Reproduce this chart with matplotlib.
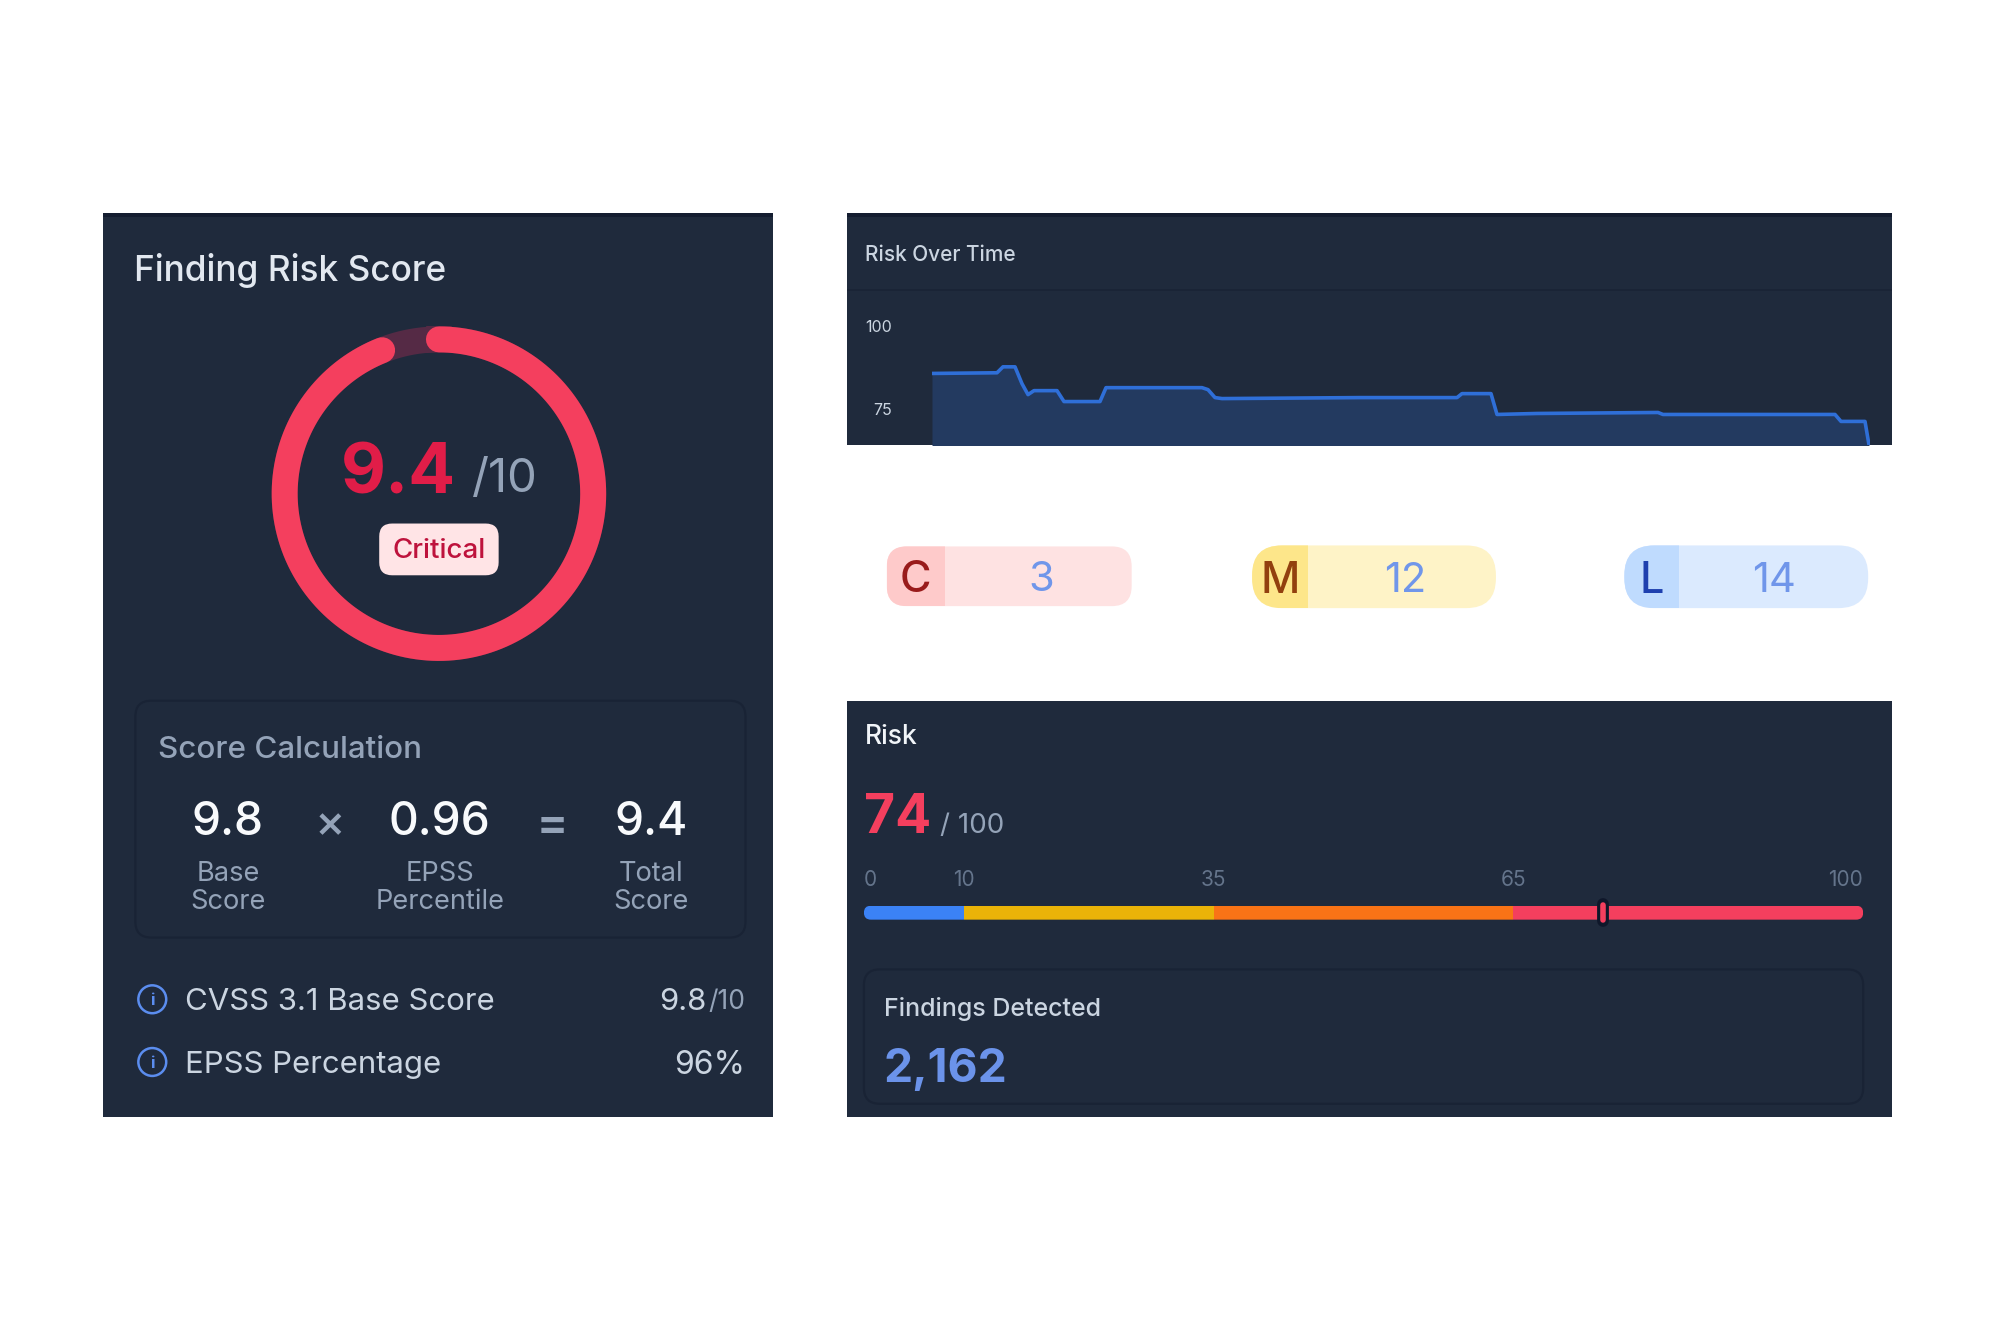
import numpy as np
import matplotlib
matplotlib.use('Agg')
import matplotlib.pyplot as plt
from matplotlib.patches import FancyBboxPatch, Rectangle, Circle

plt.rcParams['font.family'] = ['Inter', 'DejaVu Sans']

# data
score = 9.4
score_max = 10
calc_values = ['9.8', '0.96', '9.4']
calc_labels = ['Base\nScore', 'EPSS\nPercentile', 'Total\nScore']
info_names = ['CVSS 3.1 Base Score', 'EPSS Percentage']

time_x = [0, 65, 71, 83, 90, 96, 102, 125, 132, 168, 174, 270, 276, 283, 290, 428, 525,
          530, 559, 565, 605, 726, 731, 903, 909, 933, 937]
time_y = [85.8, 86, 87.8, 87.8, 82.7, 79.4, 80.6, 80.6, 77.3, 77.3, 81.5, 81.5, 80.9, 78.5,
          78.2, 78.5, 78.5, 79.7, 79.7, 73.4, 73.7, 74, 73.4, 73.4, 71.3, 71.3, 64.2]
time_ticks = [100, 75]

pill_letters = ['C', 'M', 'L']
pill_counts = [3, 12, 14]

risk_value = 74
risk_max = 100
band_edges = [0, 10, 35, 65, 100]
band_colors = ['#3b82f6', '#eab308', '#f97316', '#f43f5e']
findings = '2,162'

W, H = 2000, 1333
S = 0.9953  # layout numbers below were measured a little too wide
PANEL = '#1f2a3c'
EDGE = '#192335'

fig = plt.figure(figsize=(20, 13.33), dpi=100, facecolor='white')

# background axes in pixels, used for the cards and the texts
bg = fig.add_axes([0, 0, 1, 1])
bg.set_xlim(0, W / S)
bg.set_ylim(H / S, 0)
bg.axis('off')


def axes_px(x0, y0, x1, y1, **kw):
    x0, y0, x1, y1 = x0 * S, y0 * S, x1 * S, y1 * S
    a = fig.add_axes([x0 / W, 1 - y1 / H, (x1 - x0) / W, (y1 - y0) / H], **kw)
    a.patch.set_alpha(0)
    return a


def card(x0, y0, x1, y1, strip=False):
    bg.add_patch(Rectangle((x0, y0), x1 - x0, y1 - y0, fc=PANEL, ec='none'))
    if strip:
        bg.add_patch(Rectangle((x0, y0), x1 - x0, 4, fc='#141d30', ec='none'))


def box(x0, y0, x1, y1, r, fc, ec='none', lw=0, **kw):
    p = FancyBboxPatch((x0 + r, y0 + r), x1 - x0 - 2 * r, y1 - y0 - 2 * r,
                       boxstyle='round,pad=%f,rounding_size=%f' % (r, r),
                       fc=fc, ec=ec, lw=lw, **kw)
    bg.add_patch(p)
    return p


def label(x, y, s, size, color, ha='left', weight='normal'):
    bg.text(x, y, s, fontsize=size, color=color, ha=ha, va='center_baseline', fontweight=weight)


# left card
card(103, 214, 777, 1122, strip=True)
label(135, 268, 'Finding Risk Score', 25.4, '#e2e8f0', weight='medium')

ring = axes_px(441 - 180, 496 - 180, 441 + 180, 496 + 180, projection='polar')
ring.set_theta_zero_location('N')
ring.set_theta_direction(-1)
ring.set_rlim(0, 180)
ring.axis('off')
theta_all = np.linspace(0, 2 * np.pi, 361)
theta_val = np.linspace(0, 2 * np.pi * score / score_max, 361)
ring.plot(theta_all, np.full(361, 155), color='#552a45', lw=18.7)
ring.plot(theta_val, np.full(361, 155), color='#f43f5e', lw=18.7, solid_capstyle='round')

label(400, 470, str(score), 50, '#e11d48', ha='center', weight='bold')
label(507, 477, '/' + str(score_max), 34, '#94a3b8', ha='center')
box(381, 526, 501, 578, 13, '#ffe4e6')
label(441, 551, 'Critical', 20, '#be123c', ha='center', weight='medium')

box(136, 704, 749, 942, 16, 'none', ec=EDGE, lw=1.6)
label(159, 751, 'Score Calculation', 22.6, '#94a3b8', weight='medium')
for xc, val, lab in zip([229, 442, 654], calc_values, calc_labels):
    label(xc, 822, val, 33.3, '#f8fafc', ha='center', weight='medium')
    first, second = lab.split('\n')
    label(xc, 875, first, 19.6, '#94a3b8', ha='center')
    label(xc, 903, second, 19.6, '#94a3b8', ha='center')
label(331, 825, '×', 33, '#94a3b8', ha='center', weight='medium')
label(555, 825, '=', 33, '#94a3b8', ha='center', weight='bold')

for yc, name in zip([1004, 1067], info_names):
    bg.add_patch(Circle((153, yc), 14, fc='none', ec='#5b8def', lw=1.8))
    label(153, yc, 'i', 12, '#5b8def', ha='center', weight='bold')
    label(186, yc, name, 22.4, '#cbd5e1')
bg.text(749, 1004, '/10', fontsize=19, color='#94a3b8', ha='right', va='center_baseline')
label(710, 1004, '9.8', 22.4, '#cbd5e1', ha='right')
label(749, 1067, '96%', 23, '#cbd5e1', ha='right')

# risk over time card
card(851, 214, 1901, 447, strip=True)
bg.plot([851, 1901], [291, 291], color=EDGE, lw=1.2, solid_capstyle='butt')
label(869, 254, 'Risk Over Time', 15, '#cbd5e1', weight='medium')

line_ax = axes_px(932 / S, 328, 1870 / S, 447)
line_ax.set_xlim(0, 938)
line_ax.set_ylim(64.2, 100)
line_ax.fill_between(time_x, time_y, 60, color='#233a60', lw=0)
line_ax.plot(time_x, time_y, color='#2f6fd8', lw=2.6, solid_joinstyle='round')
for s in line_ax.spines.values():
    s.set_visible(False)
line_ax.set_xticks([])
line_ax.set_yticks(time_ticks)
line_ax.tick_params(axis='y', length=0, pad=29, labelsize=11.5, labelcolor='#cbd5e1')

# count pills
pill_fill = [('#fecaca', '#fee2e2', '#991b1b'), ('#fde68a', '#fef3c7', '#92400e'), ('#bfdbfe', '#dbeafe', '#1e40af')]
pill_geom = [(891, 1137, 549, 609, 949, 20), (1258, 1503, 548, 611, 1314, 30), (1632, 1877, 548, 611, 1687, 30)]
pill_shift = [3, 3, 0]
for letter, count, (c1, c2, c3), (x0, x1, y0, y1, split, r), dx in zip(pill_letters, pill_counts, pill_fill, pill_geom, pill_shift):
    shape = box(x0, y0, x1, y1, r, c2)
    left = Rectangle((x0, y0), split - x0, y1 - y0, fc=c1, ec='none')
    bg.add_patch(left)
    left.set_clip_path(shape)
    label((x0 + split) / 2, (y0 + y1) / 2, letter, 31, c3, ha='center', weight='medium')
    label((split + x1) / 2 + dx, (y0 + y1) / 2, str(count), 30, '#7096ea', ha='center')

# risk card
card(851, 704, 1901, 1122)
label(869, 737, 'Risk', 19, '#f1f5f9', weight='medium')
label(868, 817, str(risk_value), 38.5, '#f43f5e', weight='bold')
label(944, 827, '/ ' + str(risk_max), 20, '#94a3b8')

bar_ax = axes_px(868, 910, 1872, 924)
bar_ax.set_xlim(0, risk_max)
bar_ax.set_ylim(-0.5, 0.5)
bar_ax.axis('off')
rounded = FancyBboxPatch((0, 0), 1, 1, boxstyle='round,pad=0,rounding_size=0.007',
                         transform=bar_ax.transAxes, fc='none', ec='none', mutation_aspect=71)
bar_ax.add_patch(rounded)
for lo, hi, col in zip(band_edges[:-1], band_edges[1:], band_colors):
    b = bar_ax.barh(0, hi - lo, left=lo, height=1, color=col)
    b[0].set_clip_path(rounded)

# band labels: the first and last sit flush with the bar ends
for edge in band_edges:
    xp = 868 + (1872 - 868) * edge / risk_max
    if edge == band_edges[0]:
        label(xp, 882, str(edge), 15, '#64748b', ha='left')
    elif edge == band_edges[-1]:
        label(xp, 882, str(edge), 15, '#64748b', ha='right')
    else:
        label(xp, 882, str(edge), 15, '#64748b', ha='center')

bar_ax.plot([risk_value, risk_value], [-0.62, 0.62], color='#0f172a', lw=8.5, solid_capstyle='round', clip_on=False)
bar_ax.plot([risk_value, risk_value], [-0.55, 0.55], color='#f43f5e', lw=4, solid_capstyle='round', clip_on=False)

box(868, 974, 1872, 1109, 16, 'none', ec=EDGE, lw=1.6)
label(888, 1011, 'Findings Detected', 18, '#cbd5e1', weight='medium')
label(888, 1070, findings, 33.3, '#6b93ea', weight='bold')

fig.savefig('out.png', dpi=100, facecolor='white')
